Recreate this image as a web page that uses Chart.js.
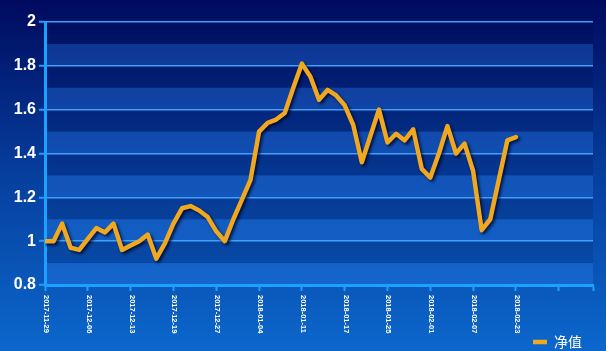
<!DOCTYPE html>
<html>
<head>
<meta charset="utf-8">
<script src="https://cdn.jsdelivr.net/npm/chart.js@4"></script>
<style>
  html, body { margin: 0; padding: 0; background: #05328a; }
  #wrap { width: 606px; height: 351px; }
</style>
</head>
<body>
<div id="wrap"><canvas id="c"></canvas></div>
<script>
// 净值走势
const seriesName = "净值";
const tickLabels = ["2017-11-29", "2017-12-06", "2017-12-13", "2017-12-19", "2017-12-27", "2018-01-04",
  "2018-01-11", "2018-01-17", "2018-01-25", "2018-02-01", "2018-02-07", "2018-02-23", ""];
const navValues = [
  1.00, 1.00, 1.08, 0.97, 0.96, 1.01, 1.06, 1.04, 1.08, 0.96,
  0.98, 1.00, 1.03, 0.92, 0.99, 1.08, 1.15, 1.16, 1.14, 1.11,
  1.045, 1.00, 1.10, 1.19, 1.28, 1.50, 1.54, 1.555, 1.585, 1.70,
  1.81, 1.75, 1.645, 1.69, 1.665, 1.62, 1.53, 1.36, 1.48, 1.60,
  1.45, 1.49, 1.46, 1.51, 1.33, 1.29, 1.40, 1.525, 1.40, 1.445,
  1.32, 1.05, 1.10, 1.28, 1.46, 1.475
];
const tickEvery = 5;
const xSlots = 64;

const axisBlue = "#1ea0ff";
const gridBlue = "rgba(70,165,255,0.95)";
const lineGold = "#f0a820";

const isMajor = (v) => Math.round(v * 10) % 2 === 0;

// fond degrade + bandes alternees
const bgPlugin = {
  id: "bg",
  beforeDraw(chart) {
    const { ctx, width, height, chartArea: a, scales } = chart;
    const g = ctx.createLinearGradient(0, 0, 0, height);
    g.addColorStop(0, "#000a5e");
    g.addColorStop(0.5, "#063f9e");
    g.addColorStop(1, "#0c67cc");
    ctx.save();
    ctx.fillStyle = g;
    ctx.fillRect(0, 0, width, height);
    const y = scales.y;
    for (let k = 0; k < 12; k++) {
      const lo = 0.8 + k * 0.1, hi = lo + 0.1;
      const y1 = y.getPixelForValue(hi), y2 = y.getPixelForValue(lo);
      ctx.fillStyle = k % 2 === 0 ? "rgba(50,140,255,0.27)" : "rgba(0,0,50,0.12)";
      ctx.fillRect(a.left, y1, a.right - a.left, y2 - y1);
    }
    ctx.restore();
  },
};

// ombre sous la courbe
const shadowPlugin = {
  id: "shadow",
  beforeDatasetDraw(chart) {
    const ctx = chart.ctx;
    ctx.save();
    ctx.shadowColor = "rgba(0,0,30,0.75)";
    ctx.shadowOffsetX = 2;
    ctx.shadowOffsetY = 2;
    ctx.shadowBlur = 3;
  },
  afterDatasetDraw(chart) {
    chart.ctx.restore();
  },
};

// etiquettes de dates verticales (lecture de haut en bas)
const dateLabels = {
  id: "dateLabels",
  afterDraw(chart) {
    const { ctx } = chart;
    const xs = chart.scales.x;
    ctx.save();
    ctx.fillStyle = "#ffffff";
    ctx.font = "bold 7.5px 'Liberation Sans', Arial, sans-serif";
    ctx.textAlign = "left";
    ctx.textBaseline = "middle";
    xs.ticks.forEach((t) => {
      const txt = tickLabels[Math.round(t.value / tickEvery)] || "";
      if (!txt) return;
      const px = xs.getPixelForValue(t.value);
      ctx.save();
      ctx.translate(px + 1, xs.top + 10);
      ctx.rotate(Math.PI / 2);
      ctx.fillText(txt, 0, 0);
      ctx.restore();
    });
    ctx.restore();
  },
};

new Chart(document.getElementById("c"), {
  type: "line",
  data: {
    datasets: [{
      label: seriesName,
      data: navValues.map((v, i) => ({ x: i, y: v })),
      borderColor: lineGold,
      backgroundColor: lineGold,
      borderWidth: 4.5,
      borderJoinStyle: "round",
      borderCapStyle: "round",
      pointRadius: 0,
      tension: 0,
    }],
  },
  options: {
    responsive: true,
    maintainAspectRatio: false,
    animation: false,
    layout: { padding: { top: 22, right: 13, left: 0, bottom: -8 } },
    plugins: {
      tooltip: { enabled: false },
      legend: {
        position: "bottom",
        align: "end",
        labels: {
          color: "#ffffff",
          font: { family: "'Noto Sans CJK SC', sans-serif", size: 14 },
          usePointStyle: true,
          pointStyle: "line",
          pointStyleWidth: 14,
          boxWidth: 17,
          boxHeight: 5,
          padding: 11,
        },
      },
    },
    scales: {
      x: {
        type: "linear",
        min: 0,
        max: xSlots,
        ticks: { stepSize: tickEvery, callback: () => "", autoSkip: false },
        grid: { drawOnChartArea: false, drawTicks: true, tickLength: 6, tickColor: axisBlue, tickWidth: 2 },
        border: { color: axisBlue, width: 3 },
        afterFit(s) { s.height = 39; },
      },
      y: {
        min: 0.8,
        max: 2,
        ticks: {
          stepSize: 0.1,
          color: "#ffffff",
          padding: 3,
          font: { family: "'Liberation Sans', Arial, sans-serif", size: 16, weight: "bold" },
          callback: (v) => (isMajor(v) ? String(Math.round(v * 10) / 10) : ""),
        },
        grid: {
          color: gridBlue,
          lineWidth: 1.5,
          tickLength: 6,
          tickWidth: 2,
          tickColor: (c) => (isMajor(c.tick.value) ? axisBlue : "rgba(0,0,0,0)"),
        },
        border: { color: axisBlue, width: 3 },
        afterFit(s) { s.width = 45; },
      },
    },
  },
  plugins: [bgPlugin, shadowPlugin, dateLabels],
});
</script>
</body>
</html>
